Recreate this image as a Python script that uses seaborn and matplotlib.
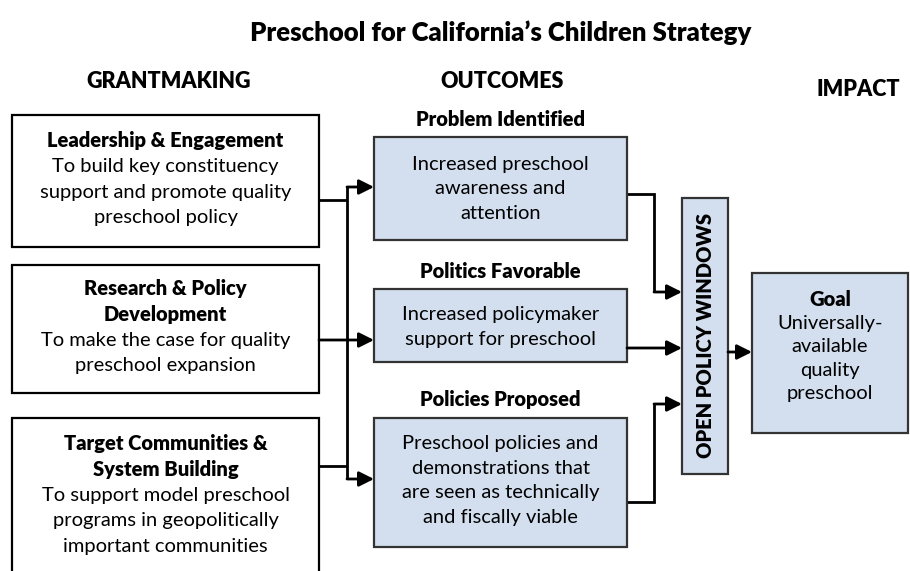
import matplotlib
matplotlib.use("Agg")
import matplotlib.pyplot as plt
from matplotlib.patches import Rectangle
import seaborn as sns

sns.set_theme(style="white")
plt.rcParams['font.family'] = ['Lato', 'DejaVu Sans']
plt.rcParams['text.color'] = 'black'

# text content
title = "Preschool for California\u2019s Children Strategy"
column_headers = ["GRANTMAKING", "OUTCOMES", "IMPACT"]

grant_titles = [["Leadership & Engagement"],
                ["Research & Policy", "Development"],
                ["Target Communities &", "System Building"]]
grant_texts = [["To build key constituency", "support and promote quality", "preschool policy"],
               ["To make the case for quality", "preschool expansion"],
               ["To support model preschool", "programs in geopolitically", "important communities"]]

outcome_titles = ["Problem Identified", "Politics Favorable", "Policies Proposed"]
outcome_texts = [["Increased preschool", "awareness and", "attention"],
                 ["Increased policymaker", "support for preschool"],
                 ["Preschool policies and", "demonstrations that",
                  "are seen as technically", "and fiscally viable"]]

window_label = "OPEN POLICY WINDOWS"
goal_title = "Goal"
goal_text = ["Universally-", "available", "quality", "preschool"]

# layout (pixels, y downwards)
blue = "#D3DFEE"
BODY = 14.5
HEAD = 14.5
BOLD = "heavy"
grant_boxes = [(12, 115, 319, 247), (12, 265, 319, 393), (12, 418, 319, 585)]
grant_first_y = [139, 287, 442]
outcome_boxes = [(374, 137, 627, 240), (374, 289, 627, 362), (374, 418, 627, 547)]
outcome_title_y = [118, 270, 398]
outcome_first_y = [163, 313, 442]
window_box = (682, 198, 728, 474)
goal_box = (752, 273, 908, 433)

fig = plt.figure(figsize=(9.1, 5.71), dpi=100)
ax = fig.add_axes([0, 0, 1, 1])
ax.set_xlim(0, 910)
ax.set_ylim(571, 0)
ax.axis("off")


def box(b, fc, ec):
    x0, y0, x1, y1 = b
    ax.add_patch(Rectangle((x0, y0), x1 - x0, y1 - y0, facecolor=fc,
                           edgecolor=ec, linewidth=1.6, zorder=2))


def lines(x, y0, dy, items, **kw):
    for i, s in enumerate(items):
        ax.text(x, y0 + i * dy, s, ha="center", va="center_baseline",
                zorder=3, **kw)


def seg(pts):
    xs, ys = zip(*pts)
    ax.plot(xs, ys, color="black", lw=2, solid_capstyle="butt",
            solid_joinstyle="miter", zorder=1)


def arrow(x0, y, x1):
    ax.annotate("", xy=(x1, y), xytext=(x0, y),
                arrowprops=dict(arrowstyle="-|>,head_length=0.9,head_width=0.45",
                                mutation_scale=10, color="black", lw=2,
                                shrinkA=0, shrinkB=0), zorder=4)


# titles
ax.text(501, 33, title, ha="center", va="center", fontsize=18.5, weight=BOLD)
for x, y, s in zip([169, 502, 858], [82, 82, 90], column_headers):
    ax.text(x, y, s, ha="center", va="center", fontsize=15.5, weight=BOLD)

# grantmaking boxes
for b, y0, t, d in zip(grant_boxes, grant_first_y, grant_titles, grant_texts):
    box(b, "white", "black")
    cx = (b[0] + b[2]) / 2
    lines(cx, y0, 25.8, t, fontsize=HEAD, weight=BOLD)
    lines(cx, y0 + 25.8 * len(t), 25.8, d, fontsize=BODY)

# outcome boxes
for b, ty, y0, t, d in zip(outcome_boxes, outcome_title_y, outcome_first_y,
                           outcome_titles, outcome_texts):
    box(b, blue, "#333333")
    cx = (b[0] + b[2]) / 2
    ax.text(cx, ty, t, ha="center", va="center_baseline", fontsize=HEAD, weight=BOLD)
    lines(cx, y0, 24.5, d, fontsize=BODY)

# open policy windows
box(window_box, blue, "#333333")
ax.text((window_box[0] + window_box[2]) / 2, (window_box[1] + window_box[3]) / 2,
        window_label, rotation=90, ha="center", va="center", fontsize=HEAD, weight=BOLD)

# goal
box(goal_box, blue, "#333333")
gx = (goal_box[0] + goal_box[2]) / 2
lines(gx, 298, 23.5, [goal_title], fontsize=HEAD, weight=BOLD)
lines(gx, 322, 23.5, goal_text, fontsize=BODY)

# connectors: grantmaking -> outcomes
seg([(319, 200), (347, 200)])
seg([(319, 466), (347, 466)])
seg([(347, 187), (347, 479)])
arrow(347, 187, 374)
arrow(319, 340, 374)
arrow(347, 479, 374)

# outcomes -> open policy windows
seg([(627, 194), (654, 194), (654, 292)])
arrow(654, 292, 682)
arrow(627, 348, 682)
seg([(627, 502), (654, 502), (654, 404)])
arrow(654, 404, 682)

# windows -> goal
arrow(728, 352, 752)

fig.savefig("out.png", dpi=100)
